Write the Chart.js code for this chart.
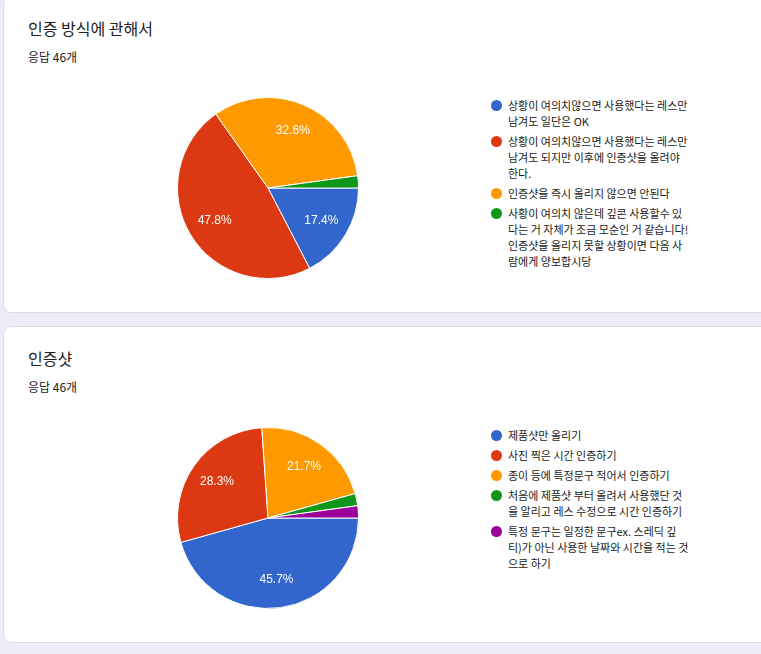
<!DOCTYPE html>
<html>
<head>
<meta charset="utf-8">
<script src="https://cdn.jsdelivr.net/npm/chart.js@4.4.1/dist/chart.umd.min.js"></script>
<style>
  html, body { margin:0; padding:0; }
  body { width:761px; height:654px; overflow:hidden; background:#f0ebf8; position:relative;
         font-family:"Noto Sans CJK KR","Noto Sans",sans-serif; color:#202124; }
  .card { position:absolute; left:3px; width:820px; height:315px; background:#fff;
          border:1px solid #dadce0; border-radius:8px; }
  .title { position:absolute; left:24px; top:21px; font-size:16px; line-height:20px; white-space:nowrap; }
  .count { position:absolute; left:24px; top:52px; font-size:12px; line-height:16px; white-space:nowrap; }
  .cv { position:absolute; left:173px; top:100px; }
  .legend { position:absolute; left:487px; top:100px; }
  .item { position:relative; padding-left:17px; margin-bottom:4px; font-size:11px; line-height:16px; color:#222; }
  .item .dot { position:absolute; left:0; top:2.5px; width:11px; height:11px; border-radius:50%; }
  .item div.line { white-space:nowrap; }
</style>
</head>
<body>
<script>
// ---- data ----
const title1 = "인증 방식에 관해서";
const title2 = "인증샷";
const responses1 = "응답 46개";
const responses2 = "응답 46개";

const categories1 = [
  ["상황이 여의치않으면 사용했다는 레스만", "남겨도 일단은 OK"],
  ["상황이 여의치않으면 사용했다는 레스만", "남겨도 되지만 이후에 인증샷을 올려야", "한다."],
  ["인증샷을 즉시 올리지 않으면 안된다"],
  ["사황이 여의치 않은데 깊콘 사용할수 있", "다는 거 자체가 조금 모순인 거 같습니다!", "인증샷을 올리지 못할 상황이면 다음 사", "람에게 양보합시당"]
];
const values1 = [8, 22, 15, 1];

const categories2 = [
  ["제품샷만 올리기"],
  ["사진 찍은 시간 인증하기"],
  ["종이 등에 특정문구 적어서 인증하기"],
  ["처음에 제품샷 부터 올려서 사용했단 것", "을 알리고 레스 수정으로 시간 인증하기"],
  ["특정 문구는 일정한 문구ex. 스레딕 깊", "티)가 아닌 사용한 날짜와 시간을 적는 것", "으로 하기"]
];
const values2 = [21, 13, 10, 1, 1];

const colors = ["#3366cc", "#dc3912", "#ff9900", "#109618", "#990099"];

// ---- percent label plugin ----
const pctLabels = {
  id: 'pctLabels',
  afterDatasetsDraw(chart) {
    const ctx = chart.ctx;
    const data = chart.data.datasets[0].data;
    const total = data.reduce((a, b) => a + b, 0);
    chart.getDatasetMeta(0).data.forEach((arc, i) => {
      const pct = data[i] / total * 100;
      if (pct < 5) return;
      const p = arc.getProps(['x', 'y', 'startAngle', 'endAngle', 'outerRadius'], true);
      const mid = (p.startAngle + p.endAngle) / 2;
      const r = p.outerRadius * 0.69;
      ctx.save();
      ctx.fillStyle = '#ffffff';
      ctx.font = '12px "Liberation Sans", Arial, sans-serif';
      ctx.textAlign = 'center';
      ctx.textBaseline = 'middle';
      ctx.fillText(pct.toFixed(1) + '%', p.x + Math.cos(mid) * r, p.y + Math.sin(mid) * r);
      ctx.restore();
    });
  }
};

function makeCard(top, title, count, cats, vals) {
  const card = document.createElement('div');
  card.className = 'card';
  card.style.top = top + 'px';
  const t = document.createElement('div'); t.className = 'title'; t.textContent = title; card.appendChild(t);
  const c = document.createElement('div'); c.className = 'count'; c.textContent = count; card.appendChild(c);
  const canvas = document.createElement('canvas');
  canvas.className = 'cv'; canvas.width = 182; canvas.height = 182;
  canvas.style.width = '182px'; canvas.style.height = '182px';
  card.appendChild(canvas);
  const lg = document.createElement('div'); lg.className = 'legend';
  cats.forEach((lines, i) => {
    const it = document.createElement('div'); it.className = 'item';
    const d = document.createElement('span'); d.className = 'dot'; d.style.background = colors[i]; it.appendChild(d);
    lines.forEach(l => { const ln = document.createElement('div'); ln.className = 'line'; ln.textContent = l; it.appendChild(ln); });
    lg.appendChild(it);
  });
  card.appendChild(lg);
  document.body.appendChild(card);

  new Chart(canvas, {
    type: 'pie',
    data: {
      labels: cats.map(l => l.join(' ')),
      datasets: [{ data: vals, backgroundColor: colors.slice(0, vals.length), borderColor: '#ffffff', borderWidth: 1 }]
    },
    options: {
      responsive: false,
      animation: false,
      events: [],
      rotation: 90,
      layout: { padding: 0 },
      plugins: { legend: { display: false }, tooltip: { enabled: false } }
    },
    plugins: [pctLabels]
  });
}

makeCard(-4, title1, responses1, categories1, values1);
makeCard(326, title2, responses2, categories2, values2);
</script>
</body>
</html>
